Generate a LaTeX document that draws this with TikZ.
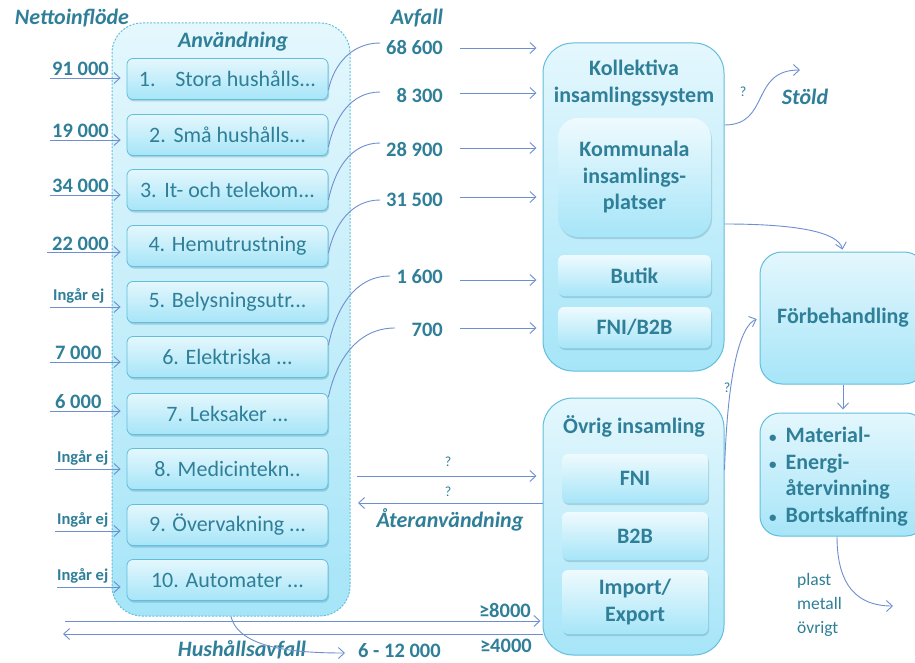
\documentclass[tikz,border=0pt]{standalone}
\usepackage{fontspec}
\setmainfont{Carlito}
\usetikzlibrary{arrows.meta,shadows,calc}
\definecolor{txt}{HTML}{2F7F98}
\definecolor{arr}{HTML}{6E8FCF}
\definecolor{bordc}{HTML}{62BEDB}
\definecolor{topc}{HTML}{E4F7FD}
\definecolor{botc}{HTML}{A6E5F8}
\definecolor{shadc}{HTML}{4A8FA8}
\newcommand\fsreg{\fontsize{22}{26}\selectfont}
\newcommand\fsbold{\fontsize{22}{26.5}\selectfont\bfseries}
\newcommand\fsbi{\fontsize{22}{26}\selectfont\bfseries\itshape}
\newcommand\fsnum{\fontsize{20.5}{24}\selectfont\bfseries}
\newcommand\fsing{\fontsize{16.5}{20}\selectfont\bfseries}
\newcommand\fsq{\fontsize{14}{17}\selectfont}
\newcommand\fsplast{\fontsize{17.5}{24}\selectfont}
\newcommand\smbul{{\fontsize{15}{15}\selectfont\textbullet}}
\tikzset{
  flow/.style={draw=arr, line width=0.9pt, -{Straight Barb[length=6pt,width=11pt]}},
  plain/.style={draw=arr, line width=0.9pt},
  bigbox/.style={draw=bordc, line width=1pt, rounded corners=30pt, top color=topc, bottom color=botc, inner sep=0pt, text=txt, font=\fsbold, align=center},
  usebox/.style={bigbox, dash pattern=on 2pt off 1.5pt},
  itembox/.style={draw=bordc, line width=0.8pt, rounded corners=6pt, top color=topc, bottom color=botc, minimum width=201pt, minimum height=41pt, inner sep=0pt, font=\fsreg, text=txt, drop shadow={shadow xshift=1pt, shadow yshift=-2pt, opacity=0.35, fill=shadc}},
  subbox/.style={draw=none, rounded corners=6pt, top color=topc!60!white, bottom color=botc, inner sep=0pt, font=\fsbold, text=txt, align=center, drop shadow={shadow xshift=1pt, shadow yshift=-2pt, opacity=0.3, fill=shadc}},
  titlef/.style={font=\fsbi, text=txt, inner sep=0pt},
  boldf/.style={font=\fsbold, text=txt, align=center, inner sep=0pt},
  numf/.style={font=\fsnum, text=txt, inner sep=0pt},
  ingf/.style={font=\fsing, text=txt, inner sep=0pt},
  qf/.style={font=\fsq, text=txt, inner sep=0pt},
}
\begin{document}
\begin{tikzpicture}[x=1pt,y=-1pt]
\clip (0,0) rectangle (915,663);
\fill[white] (0,0) rectangle (915,663);

% titles
\node[titlef] (netto) at (72,18) {Nettoinflöde};
\node[titlef] (avfall) at (417,18) {Avfall};

% Användning
\node[usebox, minimum width=238pt, minimum height=593pt] (use) at (231,319.5) {};
\node[titlef] (usetitle) at (233,42) {Användning};
\foreach \i/\y/\t in {1/79/{1.\hspace{0.9em}Stora hushålls...},
  2/135/{2.\hspace{0.35em}Små hushålls...},
  3/190/{3.\hspace{0.35em}It- och telekom...},
  4/246/{4. Hemutrustning},
  5/302/{5. Belysningsutr...},
  6/357/{6. Elektriska ...},
  7/414/{7. Leksaker ...},
  8/469/{8. Medicintekn..},
  9/525/{9. Övervakning ...},
  10/580/{10. Automater ...}}
  \node[itembox] (b\i) at (227.5,\y) {\t};

% inflows
\foreach \i/\y/\xs/\lab/\sty/\lx/\ld in {
  1/78/50/{91 000}/numf/52/2,
  2/140/50/{19 000}/numf/52/2,
  3/195/50/{34 000}/numf/52/2,
  4/252/47/{22 000}/numf/52/2,
  5/307/50/{Ingår ej}/ingf/53/7,
  6/362/50/{7 000}/numf/55/3,
  7/411/50/{6 000}/numf/55/3,
  8/469/55/{Ingår ej}/ingf/57/7,
  9/531/55/{Ingår ej}/ingf/57/7,
  10/587/57/{Ingår ej}/ingf/57/7}
{
  \coordinate (in\i) at (\xs,\y);
  \node[\sty, anchor=base west] (inl\i) at (\lx,\y-\ld) {\lab};
  \draw[flow, shorten >=6pt] (in\i) -- (in\i -| b\i.west);
}

% Kollektiva insamlingssystem
\node[bigbox, minimum width=181pt, minimum height=328pt] (kol) at (633.5,207) {};
\node[boldf] (koltitle) at (634,83) {Kollektiva\\insamlingssystem};
\node[subbox, rounded corners=20pt, minimum width=153pt, minimum height=119pt] (kom) at (634.5,177.5) {Kommunala\\insamlings-\\platser};
\node[subbox, minimum width=153pt, minimum height=41pt] (butik) at (634.5,275.5) {Butik};
\node[subbox, minimum width=153pt, minimum height=41pt] (fnib) at (634.5,327.5) {FNI/B2B};

% Övrig insamling
\node[bigbox, minimum width=181pt, minimum height=257pt] (ovr) at (633.5,526.5) {};
\node[boldf] (ovrtitle) at (634,426) {Övrig insamling};
\node[subbox, minimum width=146pt, minimum height=49pt] (fni) at (635,478.5) {FNI};
\node[subbox, minimum width=146pt, minimum height=48pt] (b2b) at (635,536) {B2B};
\node[subbox, minimum width=146pt, minimum height=64pt] (imp) at (635,602) {Import/\\Export};

% Förbehandling and recovery
\node[bigbox, rounded corners=22pt, minimum width=166pt, minimum height=132pt] (forb) at (843,318) {Förbehandling};
\node[bigbox, rounded corners=20pt, minimum width=166pt, minimum height=123pt] (mat) at (843,474.5) {};
\node[boldf, align=left, anchor=west] (mattext) at (769,476.5)
  {\smbul\hspace{9pt}Material-\\\smbul\hspace{9pt}Energi-\\\phantom{\smbul\hspace{9pt}}återvinning\\\smbul\hspace{9pt}Bortskaffning};
\node[font=\fsplast, text=txt, align=left, anchor=west, inner sep=0pt] (plast) at (797,605) {plast\\metall\\övrigt};

% waste labels and curves
\foreach \i/\y/\lab/\cx/\cy/\b/\sh in {
  1/48/{68 600}/380/43/1/-11,
  2/95/{8 300}/380/92/2/-12,
  3/149/{28 900}/380/143/3/-10,
  4/200/{31 500}/380/200/4/-7,
  5/277/{1 600}/390/276/6/12,
  6/330/{700}/395/328/7/17}
{
  \node[numf, anchor=east] (wl\i) at (443,\y) {\lab};
  \coordinate (wc\i) at (\cx,\cy);
  \draw[plain] ([yshift=\sh pt]b\b.east) to[out=78,in=180] (wc\i);
}
\foreach \i/\y in {1/48,2/93,3/148,4/197,5/280,6/328}
{
  \coordinate (wa\i) at (460,\y);
  \draw[flow, shorten >=6pt] (wa\i) -- (wa\i -| kol.west);
}

% Stöld
\coordinate (stold) at (800,70);
\draw[flow] ([yshift=82pt]kol.east) .. controls +(46,0) and +(-50,0) .. (stold);
\node[qf] (qst) at (743,92) {?};
\node[titlef] (stoldl) at (805,97) {Stöld};

% to Förbehandling
\draw[flow, shorten >=2pt] ([yshift=-17pt]kol.east) .. controls +(70,0) and +(-5,-20) .. (forb.north);
\draw[flow, shorten >=3pt] ([yshift=56.5pt]ovr.east) .. controls +(3,-95) and +(-20,8) .. (forb.west);
\node[qf] (qfo) at (727,388) {?};
\draw[flow, shorten >=3pt] (forb.south) -- (mat.north);
\coordinate (pm) at (893,606);
\draw[flow] ([xshift=-6pt]mat.south) .. controls +(0,50) and +(-35,0) .. (pm);

% reuse
\coordinate (q1) at (357,476);
\coordinate (q2) at (358,503);
\draw[flow, shorten >=6pt] (q1) -- (q1 -| ovr.west);
\draw[flow] (ovr.west |- q2) -- (q2);
\node[qf] (q1l) at (448,462) {?};
\node[qf] (q2l) at (448,492) {?};
\node[titlef] (ater) at (450,520) {Återanvändning};

% bottom flows
\coordinate (h1) at (65,621);
\coordinate (h2) at (63,634);
\draw[flow, shorten >=2pt] (h1) -- (h1 -| ovr.west);
\draw[flow] (ovr.west |- h2) -- (h2);
\node[numf, anchor=east] (g8) at (531,610) {≥8000};
\node[numf, anchor=east] (g4) at (532,646) {≥4000};

% household waste
\node[titlef] (hush) at (242,650) {Hushållsavfall};
\coordinate (hh) at (345,653);
\draw[flow] (use.south) .. controls +(8,32) and +(-50,0) .. (hh);
\node[numf, anchor=west] (hhl) at (358,651) {6 - 12 000};
\end{tikzpicture}
\end{document}
